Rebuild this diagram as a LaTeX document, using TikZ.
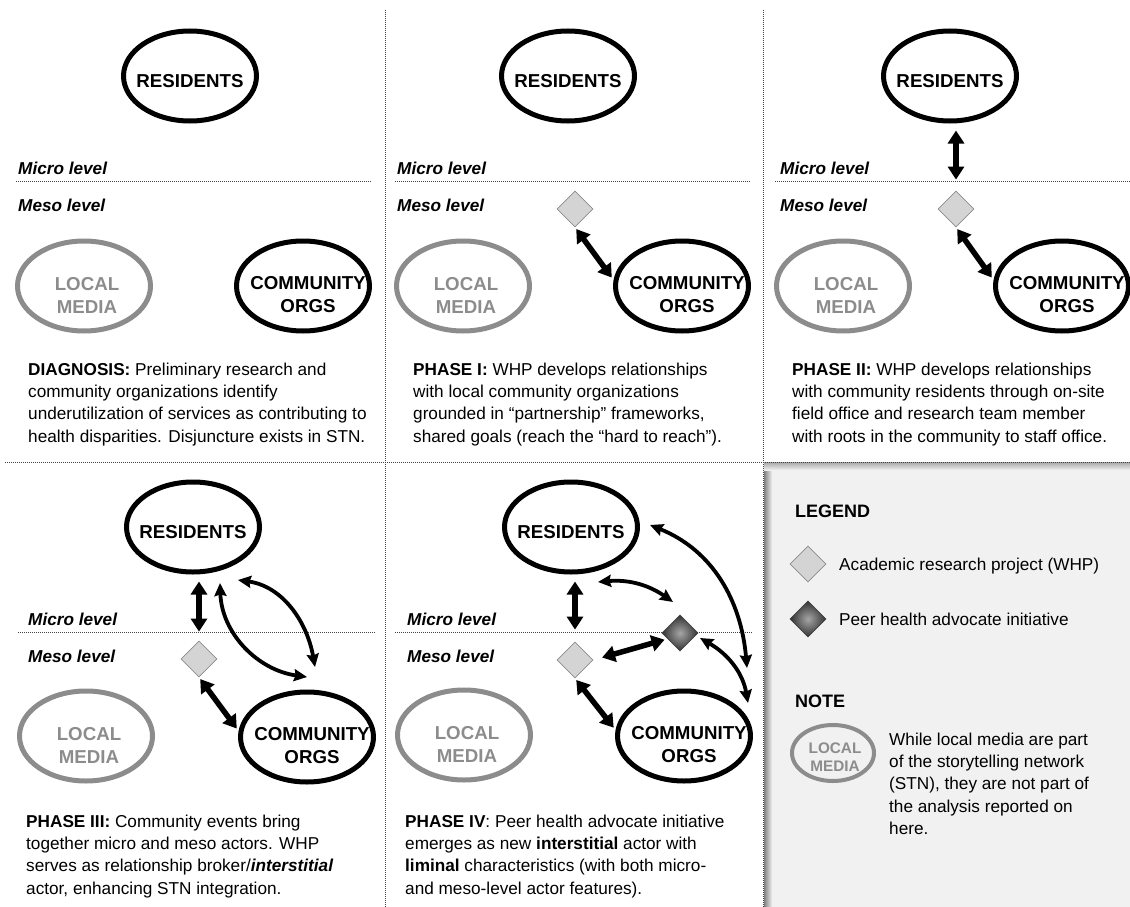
\documentclass[tikz,border=0pt]{standalone}
\usepackage{fontspec}
\setmainfont{Liberation Sans}
\usetikzlibrary{shapes.geometric,arrows.meta}
\definecolor{mediagray}{RGB}{140,140,140}
\definecolor{whpgray}{RGB}{212,212,212}
\definecolor{panelgray}{RGB}{241,241,241}
\tikzset{
  actor/.style={ellipse,draw,line width=5pt,minimum width=133pt,minimum height=90pt,inner sep=0pt},
  media/.style={actor,draw=mediagray},
  lbl/.style={font=\fontsize{18.7}{23}\selectfont\bfseries,align=center,yshift=-9pt},
  whp/.style={diamond,draw=black!45,fill=whpgray,line width=0.8pt,minimum size=36pt,inner sep=0pt},
  peer/.style={diamond,draw=black!75,line width=0.8pt,inner color=black!35,outer color=black!80,minimum size=36pt,inner sep=0pt},
  biglink/.style={line width=5.5pt,{Triangle[length=13pt,width=16pt]}-{Triangle[length=13pt,width=16pt]}},
  link/.style={line width=3.8pt,{Stealth[length=13pt,width=12pt,inset=1.5pt]}-{Stealth[length=13pt,width=12pt,inset=1.5pt]}},
  dots/.style={draw=black!75,line width=1pt,dash pattern=on 1pt off 1pt},
  level/.style={anchor=base west,inner sep=0pt,font=\fontsize{17.2}{20}\selectfont\bfseries\itshape},
  desc/.style={anchor=north west,inner sep=0pt,align=left,font=\fontsize{17.2}{22.3}\selectfont},
  keytext/.style={anchor=base west,inner sep=0pt,font=\fontsize{17.2}{20}\selectfont},
  head/.style={anchor=base west,inner sep=0pt,font=\fontsize{18}{22}\selectfont\bfseries}
}
\begin{document}
\begin{tikzpicture}[x=1pt,y=1pt]
  \path[use as bounding box] (0,0) rectangle (1130,-907);
  \fill[panelgray] (764,-462) rectangle (1130,-907);
  \shade[left color=black!50,right color=panelgray] (764,-462) rectangle (772,-907);
  \shade[top color=black!35,bottom color=panelgray] (764,-462) rectangle (1130,-470);
  \draw[dots] (385,-10) -- (385,-907) (763,-10) -- (763,-907) (5,-462) -- (1130,-462);
  \foreach \x/\y/\a/\b in {18/174/16/372, 397/174/395/750, 780/174/775/1130, 28/625/18/375, 407/625/395/753}{
    \node[level] (mi\x) at (\x,-\y) {Micro level};
    \node[level] (me\x) at (\x,-\y-37) {Meso level};
    \draw[dots] (\a,-\y-7) -- (\b,-\y-7);
  }
  \foreach \n/\x/\y in {1/190/76, 2/568/76, 3/950/76, 4/193/527, 5/571/527}{
    \node[actor,label={[lbl,yshift=4pt]center:RESIDENTS}] (R\n) at (\x,-\y) {};
  }
  \foreach \n/\x/\y in {1/84/286, 2/463/286, 3/843/286, 4/86/736, 5/464/735}{
    \node[media,label={[lbl,text=mediagray,xshift=3pt]center:LOCAL\\MEDIA}] (L\n) at (\x,-\y) {};
  }
  \foreach \n/\x/\y in {1/303/286, 2/682/286, 3/1062/286, 4/307/737, 5/684/736}{
    \node[actor,label={[lbl,xshift=5pt]center:COMMUNITY\\ORGS}] (C\n) at (\x,-\y) {};
  }
  \foreach \n/\x/\y in {2/575/209, 3/956/209, 4/199/659, 5/575/660}{
    \node[whp] (W\n) at (\x,-\y) {};
  }
  \node[peer] (P5) at (680,-633) {};
  \foreach \n in {2,...,5}{
    \draw[biglink,shorten <=2pt,shorten >=3pt] (W\n.south) -- (C\n.175);
  }
  \foreach \n/\s in {3/11, 4/9, 5/12}{
    \draw[biglink,shorten <=7pt,shorten >=\s pt] (R\n.south -| W\n) -- (W\n.north);
  }
  \draw[biglink,shorten <=9pt,shorten >=3pt] (W5.east) -- (P5.205);
  \draw[link] ([shift={(27,-56)}]R4.center) to[out=-88,in=172] ([shift={(0,60)}]C4.center);
  \draw[link] ([shift={(45,-53)}]R4.center) to[out=-8,in=100] ([shift={(8,70)}]C4.center);
  \draw[link] ([shift={(27,-55)}]R5.center) to[out=5,in=145] ([shift={(-7,31)}]P5.center);
  \draw[link] ([shift={(79,2)}]R5.center) to[out=-22,in=95] ([shift={(63,68)}]C5.center);
  \draw[link] ([shift={(20,-5)}]P5.center) to[out=-30,in=100] ([shift={(64,33)}]C5.center);
  \node[desc] (T1) at (28,-362.6) {\textbf{DIAGNOSIS:} Preliminary research and\\community organizations identify\\underutilization of services as contributing to\\health disparities. Disjuncture exists in STN.};
  \node[desc] (T2) at (413,-362.6) {\textbf{PHASE I:} WHP develops relationships\\with local community organizations\\grounded in “partnership” frameworks,\\shared goals (reach the “hard to reach”).};
  \node[desc] (T3) at (792,-362.6) {\textbf{PHASE II:} WHP develops relationships\\with community residents through on-site\\field office and research team member\\with roots in the community to staff office.};
  \node[desc] (T4) at (26,-814.6) {\textbf{PHASE III:} Community events bring\\together micro and meso actors. WHP\\serves as relationship broker/\textbf{\textit{interstitial}}\\actor, enhancing STN integration.};
  \node[desc] (T5) at (405,-814.6) {\textbf{PHASE IV}: Peer health advocate initiative\\emerges as new \textbf{interstitial} actor with\\\textbf{liminal} characteristics (with both micro-\\and meso-level actor features).};
  \node[head] (legend) at (795,-517) {LEGEND};
  \node[whp] (keyW) at (808,-564) {};
  \node[keytext] (keyWt) at (839,-570) {Academic research project (WHP)};
  \node[peer] (keyP) at (808,-619) {};
  \node[keytext] (keyPt) at (839,-625) {Peer health advocate initiative};
  \node[head] (note) at (795,-707) {NOTE};
  \node[media,line width=4pt,minimum width=82pt,minimum height=56pt,label={[lbl,text=mediagray,font=\fontsize{15.3}{18.5}\selectfont\bfseries,yshift=5pt,xshift=2pt]center:LOCAL\\MEDIA}] (keyL) at (833,-753) {};
  \node[desc] (keyLt) at (889,-732.6) {While local media are part\\of the storytelling network\\(STN), they are not part of\\the analysis reported on\\here.};
\end{tikzpicture}
\end{document}
